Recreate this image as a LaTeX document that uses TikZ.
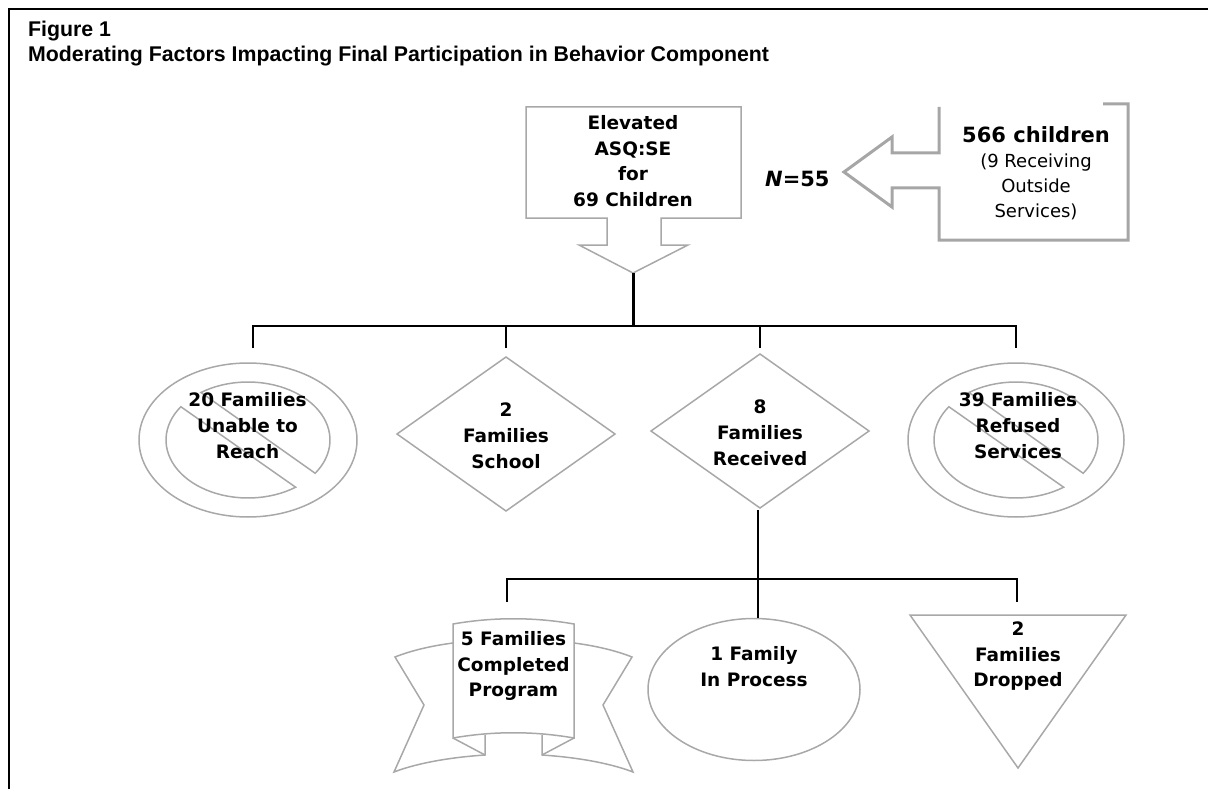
\documentclass[tikz,border=0pt]{standalone}
\usepackage{fontspec}
\setmainfont{DejaVu Sans}
\newfontfamily\titlefont{Liberation Sans}
\definecolor{shapegray}{HTML}{A8A8A8}
\definecolor{calloutgray}{HTML}{A6A6A6}

\begin{document}
\begin{tikzpicture}[x=1pt,y=-1pt,line join=miter,
	outline/.style={draw=shapegray,line width=1.5pt},
	link/.style={draw=black,line width=1.8pt},
	lbl/.style={anchor=base,align=center,inner sep=0pt,font=\fontsize{18.5}{25.7}\selectfont\bfseries}]
	\useasboundingbox (0,0) rectangle (1208,789);

	%frame and title
	\draw[line width=2.5pt] (9,789) -- (9,9) -- (1208,9);
	\node[anchor=base west,inner sep=0pt,font=\titlefont\fontsize{21.3}{25}\selectfont\bfseries] (fig) at (28,37) {Figure 1};
	\node[anchor=base west,inner sep=0pt,font=\titlefont\fontsize{21.3}{25}\selectfont\bfseries] (title) at (28,62) {Moderating Factors Impacting Final Participation in Behavior Component};

	%top callouts
	\draw[outline] (526,107) -- (741,107) -- (741,218) -- (661,218) -- (661,245) -- (688,245) -- (633,273)
	  -- (579,245) -- (607,245) -- (607,218) -- (526,218) -- cycle; %elevated box
	\node[lbl] (elev) at (633,206.7) {Elevated\\ASQ:SE\\for\\69 Children};
	\draw[draw=calloutgray,line width=3pt] (1103,104) -- (1128,104) -- (1128,240) -- (939,240) -- (939,188) -- (892,188)
	  -- (892,207) -- (844,172) -- (892,137) -- (892,153) -- (939,153) -- (939,107); %566 children callout
	\node[lbl,font=\fontsize{18}{25}\selectfont] (kids) at (1036,217.7) {{\fontsize{21}{25}\selectfont\bfseries 566 children}\\(9 Receiving\\Outside\\Services)};
	\node[anchor=base west,inner sep=0pt,font=\fontsize{21}{25}\selectfont\bfseries] (nval) at (765,186.7) {\textit{N}=55};

	%second row shapes
	\draw[outline] (248,440) ellipse [x radius=109,y radius=77]; %no symbol left
	\draw[outline] plot[domain=54.5:215,samples=40] ({248+82*cos(\x)},{440+58*sin(\x)}) -- cycle;
	\draw[outline] plot[domain=235:395,samples=40] ({248+82*cos(\x)},{440+58*sin(\x)}) -- cycle;
	\draw[outline] (1016,440) ellipse [x radius=108,y radius=77]; %no symbol right
	\draw[outline] plot[domain=54.5:215,samples=40] ({1016+82*cos(\x)},{440+58*sin(\x)}) -- cycle;
	\draw[outline] plot[domain=235:395,samples=40] ({1016+82*cos(\x)},{440+58*sin(\x)}) -- cycle;
	\draw[outline] (506,357) -- (615,434) -- (506,511) -- (397,434) -- cycle; %school diamond
	\draw[outline] (760,354) -- (869,431) -- (760,508) -- (651,431) -- cycle; %received diamond

	\node[lbl] (reach) at (247.5,458) {20 Families\\Unable to\\Reach};
	\node[lbl] (school) at (506,468) {2\\Families\\School};
	\node[lbl] (recv) at (760,465) {8\\Families\\Received};
	\node[lbl] (refuse) at (1018,458) {39 Families\\Refused\\Services};

	%third row shapes
	\draw[outline] (453,624) .. controls (493,617) and (534,617) .. (574,624) -- (574,738)
	  .. controls (534,731) and (493,731) .. (453,738) -- cycle; %ribbon panel
	\draw[outline] (453,643) .. controls (430,646) and (410,651) .. (395,657) -- (424,705) -- (394,772)
	  .. controls (420,762) and (455,757) .. (485,755) -- (485,735); %left wing
	\draw[outline] (453,738) -- (485,755);
	\draw[outline] (574,643) .. controls (597,646) and (617,651) .. (632,657) -- (603,705) -- (633,772)
	  .. controls (607,762) and (572,757) .. (542,755) -- (542,735); %right wing
	\draw[outline] (574,738) -- (542,755);
	\draw[outline] (754,689.5) ellipse [x radius=106,y radius=71]; %in process
	\draw[outline] (910,615) -- (1126,615) -- (1018,768) -- cycle; %dropped triangle

	\node[lbl] (done) at (513.5,696.7) {5 Families\\Completed\\Program};
	\node[lbl] (proc) at (754,686) {1 Family\\In Process};
	\node[lbl] (drop) at (1018,686.7) {2\\Families\\Dropped};

	%connectors
	\coordinate (elevtip) at (633,273);
	\coordinate (hub) at (633,326);
	\coordinate (reachtop) at (253,348);
	\coordinate (schooltop) at (506,348);
	\coordinate (recvtop) at (760,348);
	\coordinate (refusetop) at (1016,348);
	\draw[link,line width=3pt] (elevtip) -- (hub);
	\draw[link] (reachtop) |- (hub) -| (refusetop);
	\draw[link] (schooltop) -- (schooltop|-hub);
	\draw[link] (recvtop) -- (recvtop|-hub);

	\coordinate (recvbot) at (758,510);
	\coordinate (hubb) at (758,579);
	\coordinate (proctop) at (758,618);
	\coordinate (donetop) at (507,602);
	\coordinate (droptop) at (1017,602);
	\draw[link] (recvbot) -- (proctop);
	\draw[link] (donetop) |- (hubb) -| (droptop);
\end{tikzpicture}
\end{document}
